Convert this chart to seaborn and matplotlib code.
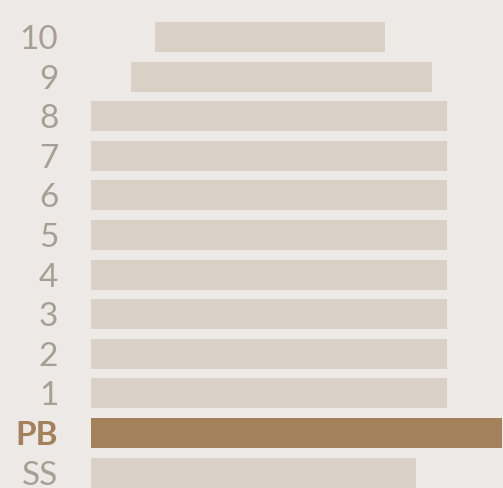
import numpy as np
import pandas as pd
import seaborn as sns
import matplotlib.pyplot as plt

# floors, top to bottom
floors = ["10", "9", "8", "7", "6", "5", "4", "3", "2", "1", "PB", "SS"]
starts = [15.6, 9.7, 0, 0, 0, 0, 0, 0, 0, 0, 0, 0]
ends = [71.5, 83.0, 86.6, 86.6, 86.6, 86.6, 86.6, 86.6, 86.6, 86.6, 100, 79.1]
highlight = "PB"

bg = "#ede9e6"
bar_col = "#d9d1c5"
hi_col = "#a3815a"
txt_col = "#a89f94"

df = pd.DataFrame({"floor": floors, "start": starts, "end": ends})
palette = {f: (hi_col if f == highlight else bar_col) for f in floors}

sns.set_style("white")
plt.rcParams['font.family'] = ['Lato', 'DejaVu Sans']

fig = plt.figure(figsize=(5.03, 4.88), dpi=100, facecolor=bg)
ax = fig.add_axes([91 / 503, 0, 1 - 91 / 503, 1])
ax.set_facecolor(bg)

sns.barplot(data=df, x="end", y="floor", hue="floor", palette=palette,
            order=floors, orient="h", width=0.76, legend=False, ax=ax,
            saturation=1, linewidth=0)

# turn into floating bars: shift each bar to its start
for patch, s, e in zip(ax.patches, df["start"], df["end"]):
    patch.set_x(s)
    patch.set_width(e - s)

ax.set_xlim(0, 100.24)
ax.set_ylim(11.39, -0.934)
ax.set_xlabel("")
ax.set_ylabel("")
ax.set_xticks([])
for sp in ax.spines.values():
    sp.set_visible(False)

ax.tick_params(axis="y", length=0, pad=23.5)
for lab in ax.get_yticklabels():
    lab.set_fontsize(24)
    if lab.get_text() == highlight:
        lab.set_color(hi_col)
        lab.set_fontweight("bold")
    else:
        lab.set_color(txt_col)
        lab.set_fontweight("normal")

fig.savefig("out.png", dpi=100, facecolor=bg)
